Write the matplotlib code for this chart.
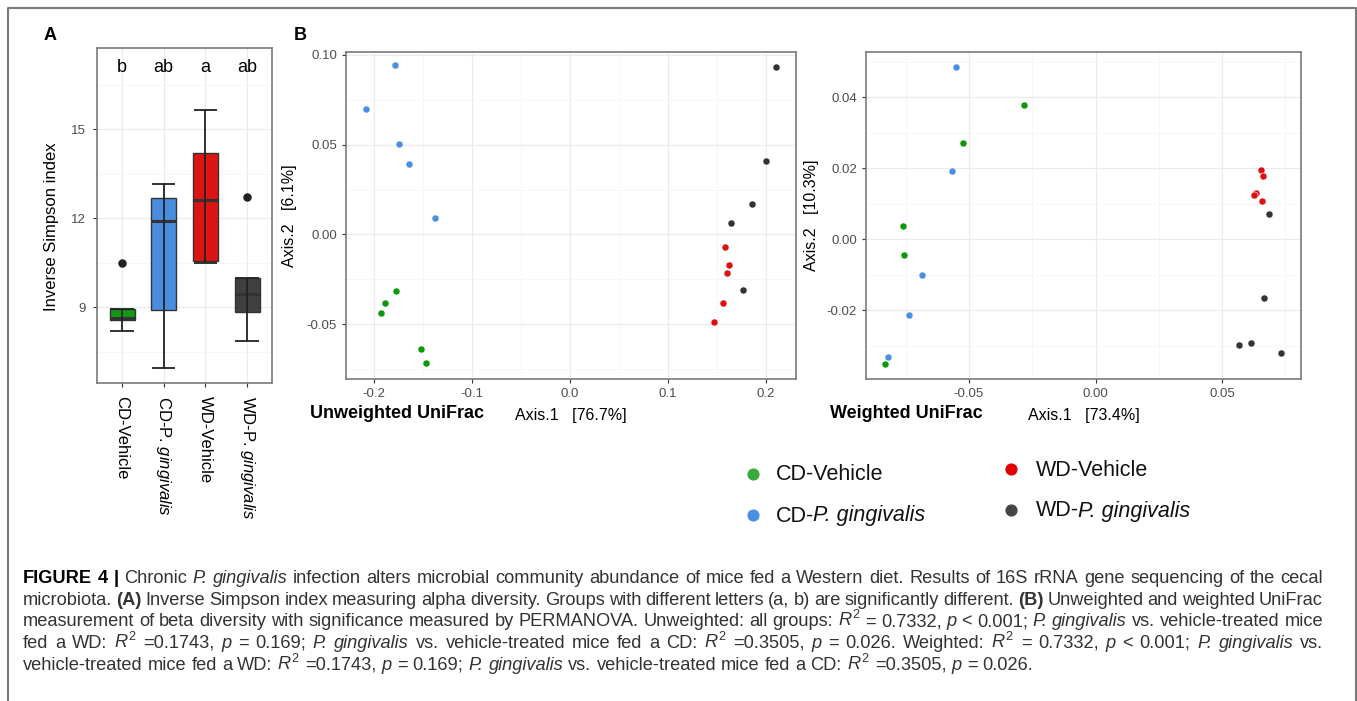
import matplotlib
matplotlib.use("Agg")
import matplotlib.pyplot as plt
import numpy as np

plt.rcParams["font.family"] = ["Liberation Sans", "DejaVu Sans"]
plt.rcParams["mathtext.fontset"] = "custom"
plt.rcParams["mathtext.rm"] = "Liberation Sans"
plt.rcParams["mathtext.it"] = "Liberation Sans:italic"
plt.rcParams["mathtext.bf"] = "Liberation Sans:bold"

W, H = 1357, 701
DPI = 100

# ---- data -------------------------------------------------------------
groups = ["CD-Vehicle", "CD-P. gingivalis", "WD-Vehicle", "WD-P. gingivalis"]
tick_labels_a = ["CD-Vehicle", r"CD-P. $\mathit{gingivalis}$",
                 "WD-Vehicle", r"WD-P. $\mathit{gingivalis}$"]
# legend labels as (text, style) runs
legend_labels = [
    [("CD-Vehicle", "n")],
    [("CD-", "n"), ("P. gingivalis", "i")],
    [("WD-Vehicle", "n")],
    [("WD-", "n"), ("P. gingivalis", "i")],
]

# panel A: inverse Simpson box stats
q1 = [8.58, 8.90, 10.56, 8.84]
median = [8.65, 11.92, 12.63, 9.45]
q3 = [8.93, 12.70, 14.20, 10.00]
whisker_lo = [8.19, 6.94, 10.51, 7.87]
whisker_hi = [8.93, 13.14, 15.65, 10.00]
outliers = [[10.49], [], [], [12.73]]
letters = ["b", "ab", "a", "ab"]

# panel B: unweighted UniFrac PCoA
uw_x = [
    [-0.178, -0.189, -0.193, -0.1527, -0.1473],
    [-0.179, -0.208, -0.1745, -0.165, -0.138],
    [0.1585, 0.1619, 0.1599, 0.1561, 0.1469],
    [0.2099, 0.2003, 0.1857, 0.1639, 0.1762],
]
uw_y = [
    [-0.0317, -0.0381, -0.0435, -0.0639, -0.0715],
    [0.0943, 0.0696, 0.0502, 0.0391, 0.0094],
    [-0.0072, -0.0169, -0.0217, -0.0381, -0.0489],
    [0.0933, 0.0411, 0.0169, 0.0063, -0.0311],
]

# panel B: weighted UniFrac PCoA
w_x = [
    [-0.0284, -0.0525, -0.0759, -0.0757, -0.0832],
    [-0.0553, -0.0567, -0.0687, -0.0737, -0.0821],
    [0.0653, 0.0662, 0.0634, 0.0626, 0.0658],
    [0.0684, 0.0667, 0.0567, 0.0614, 0.0733],
]
w_y = [
    [0.0378, 0.0270, 0.0037, -0.0045, -0.0353],
    [0.0486, 0.0192, -0.0102, -0.0215, -0.0331],
    [0.0196, 0.0177, 0.0131, 0.0125, 0.0106],
    [0.0072, -0.0165, -0.0299, -0.0292, -0.0320],
]

box_colors = ["#119a11", "#4a8de0", "#dc1414", "#404040"]
point_colors = ["#0b990b", "#4a90e2", "#e01010", "#333333"]
legend_colors = ["#3aaa3a", "#4a90e2", "#e00000", "#444444"]

# caption: *bold*, _italic_, $math$ words
R2 = r"$\mathit{R}^{2}$"
caption_lines = [
    "*FIGURE* *4* *|* Chronic _P._ _gingivalis_ infection alters microbial community abundance of mice fed a Western diet. Results of 16S rRNA gene sequencing of the cecal",
    "microbiota. *(A)* Inverse Simpson index measuring alpha diversity. Groups with different letters (a, b) are significantly different. *(B)* Unweighted and weighted UniFrac",
    "measurement of beta diversity with significance measured by PERMANOVA. Unweighted: all groups: " + R2 + " = 0.7332, _p_ < 0.001; _P._ _gingivalis_ vs. vehicle-treated mice",
    "fed a WD: " + R2 + " =0.1743, _p_ = 0.169; _P._ _gingivalis_ vs. vehicle-treated mice fed a CD: " + R2 + " =0.3505, _p_ = 0.026. Weighted: " + R2 + " = 0.7332, _p_ < 0.001; _P._ _gingivalis_ vs.",
    "vehicle-treated mice fed a WD: " + R2 + " =0.1743, _p_ = 0.169; _P._ _gingivalis_ vs. vehicle-treated mice fed a CD: " + R2 + " =0.3505, _p_ = 0.026.",
]

GRID_MAJOR = "#ebebeb"
GRID_MINOR = "#f5f5f5"
FRAME = "#7a7a7a"


def px_axes(fig, left, top, right, bottom):
    return fig.add_axes([left / W, 1 - bottom / H, (right - left) / W, (bottom - top) / H])


def style_frame(ax):
    for sp in ax.spines.values():
        sp.set_color(FRAME)
        sp.set_linewidth(1.2)
    ax.tick_params(which="major", length=3, width=0.8, color="#333333",
                   labelsize=9.5, labelcolor="#4d4d4d", pad=3.5)
    ax.tick_params(which="minor", length=0)
    ax.grid(which="major", color=GRID_MAJOR, lw=0.9)
    ax.grid(which="minor", color=GRID_MINOR, lw=0.6)
    ax.set_axisbelow(True)


def pcoa_panel(ax, xs, ys, xlim, ylim, xmaj, xmin, ymaj, ymin, xfmt, yfmt, xlab, ylab):
    for gx, gy, col in zip(xs, ys, point_colors):
        ax.scatter(gx, gy, s=26, color=col, edgecolors="white", linewidths=0.4, zorder=3)
    ax.set_xlim(*xlim)
    ax.set_ylim(*ylim)
    ax.set_xticks(xmaj)
    ax.set_xticklabels([xfmt.format(v) for v in xmaj])
    ax.set_xticks(xmin, minor=True)
    ax.set_yticks(ymaj)
    ax.set_yticklabels([yfmt.format(v) for v in ymaj])
    ax.set_yticks(ymin, minor=True)
    style_frame(ax)
    ax.set_xlabel(xlab, fontsize=11.5, labelpad=6)
    ax.set_ylabel(ylab, fontsize=11.5)
    ax.yaxis.set_label_coords(-0.108, 0.5)


def style_kw(style):
    if style == "b":
        return {"weight": "bold"}
    if style == "i":
        return {"fontstyle": "italic"}
    return {}


fig = plt.figure(figsize=(W / DPI, H / DPI), dpi=DPI)
renderer = fig.canvas.get_renderer()

# full-figure canvas (1 unit = 1 px) for frame, labels, legend and caption
cv = fig.add_axes([0, 0, 1, 1])
cv.set_xlim(0, W)
cv.set_ylim(H, 0)
cv.axis("off")
cv.plot([7.5, 7.5, 1356, 1356], [H + 5, 7.5, 7.5, H + 5], color=FRAME, lw=1.5)

# ---- panel A ----------------------------------------------------------
axa = px_axes(fig, 97, 48, 272, 383)
pos = np.arange(len(groups))
axa.vlines(pos, whisker_lo, whisker_hi, color="#222222", lw=1.3, zorder=4)
axa.bar(pos, np.array(q3) - np.array(q1), bottom=q1, width=0.6,
        color=box_colors, edgecolor="#333333", lw=1.0, zorder=2)
axa.hlines(median, pos - 0.3, pos + 0.3, color="#333333", lw=2.2, zorder=3)
axa.hlines(whisker_lo, pos - 0.28, pos + 0.28, color="#222222", lw=1.3, zorder=4)
axa.hlines(whisker_hi, pos - 0.28, pos + 0.28, color="#222222", lw=1.3, zorder=4)
for i, vals in enumerate(outliers):
    axa.scatter([i] * len(vals), vals, s=26, color="#222222", zorder=5)
for i, lt in enumerate(letters):
    axa.text(i, 16.93, lt, ha="center", va="baseline", fontsize=13, color="black")
axa.set_xlim(-0.6, 3.6)
axa.set_ylim(6.45, 17.74)
axa.set_yticks([9, 12, 15])
axa.set_yticks([7.5, 10.5, 13.5, 16.5], minor=True)
axa.set_xticks(pos)
style_frame(axa)
axa.tick_params(axis="y", pad=5)
axa.set_xticklabels(tick_labels_a, rotation=-90, fontsize=12, color="black")
axa.tick_params(axis="x", labelcolor="black", labelsize=12, pad=6)
axa.set_ylabel("Inverse Simpson index", fontsize=12)
axa.yaxis.set_label_coords(-0.215, 0.466)

# ---- panel B ----------------------------------------------------------
axu = px_axes(fig, 346, 52, 796, 379)
pcoa_panel(axu, uw_x, uw_y, (-0.2289, 0.2306), (-0.0804, 0.1015),
           [-0.2, -0.1, 0.0, 0.1, 0.2], [-0.15, -0.05, 0.05, 0.15],
           [-0.05, 0.0, 0.05, 0.10], [-0.075, -0.025, 0.025, 0.075],
           "{:.1f}", "{:.2f}", "Axis.1   [76.7%]", "Axis.2   [6.1%]")

axw = px_axes(fig, 866, 52, 1301, 379)
pcoa_panel(axw, w_x, w_y, (-0.0907, 0.0812), (-0.0394, 0.0527),
           [-0.05, 0.0, 0.05], [-0.075, -0.025, 0.025, 0.075],
           [-0.02, 0.0, 0.02, 0.04], [-0.03, -0.01, 0.01, 0.03, 0.05],
           "{:.2f}", "{:.2f}", "Axis.1   [73.4%]", "Axis.2   [10.3%]")

cv.text(310, 414, "Unweighted UniFrac", fontsize=13, weight="bold", va="center", ha="left")
cv.text(830, 414, "Weighted UniFrac", fontsize=13, weight="bold", va="center", ha="left")
cv.text(50, 35, "A", fontsize=13, weight="bold", ha="center", va="center")
cv.text(300, 35, "B", fontsize=13, weight="bold", ha="center", va="center")

# ---- legend -----------------------------------------------------------
leg_mx = [752.7, 752.7, 1010.7, 1010.7]
leg_tx = [776, 776, 1036, 1036]
leg_y = [473.5, 515, 469, 510]
for mx, tx, y, runs, col in zip(leg_mx, leg_tx, leg_y, legend_labels, legend_colors):
    cv.scatter([mx], [y], s=60, color=col)
    x = tx
    for txt, st in runs:
        t = cv.text(x, y + 6.5, txt, fontsize=15.5, ha="left", va="baseline",
                    color="#111111", **style_kw(st))
        x += t.get_window_extent(renderer).width - 1.5

# ---- caption (justified) ----------------------------------------------
cap_left, cap_right = 23, 1323
last_line_right = 1033
baselines = [583, 605, 626.5, 648, 669.5]
base_fs = 12
cap_words = []
for line, yb in zip(caption_lines, baselines):
    words = []
    for tok in line.split(" "):
        if len(tok) > 2 and tok.startswith("*") and tok.endswith("*"):
            txt, st = tok[1:-1], "b"
        elif len(tok) > 2 and tok.startswith("_") and tok.endswith("_"):
            txt, st = tok[1:-1], "i"
        else:
            txt, st = tok, "n"
        color = "black" if (st == "b" and yb == baselines[0]) else "#333333"
        words.append(cv.text(cap_left, yb, txt, fontsize=base_fs, va="baseline",
                             color=color, **style_kw(st)))
    cap_words.append(words)


def natural_width(words, fs):
    space = 0.278 * fs * DPI / 72
    return sum(w.get_window_extent(renderer).width for w in words) + space * (len(words) - 1)


# size from the (unjustified) last line, but keep every line able to fit
fs_last = base_fs * (last_line_right - cap_left) / natural_width(cap_words[-1], base_fs)
fs_fit = max(base_fs * (cap_right - cap_left) / (
    sum(w.get_window_extent(renderer).width for w in ws) + 2.2 * (len(ws) - 1))
    for ws in cap_words[:1])
cap_fs = min(fs_last, fs_fit)
for ws in cap_words:
    for w in ws:
        w.set_fontsize(cap_fs)

for k, ws in enumerate(cap_words):
    widths = [w.get_window_extent(renderer).width for w in ws]
    if k < len(cap_words) - 1:
        gap = (cap_right - cap_left - sum(widths)) / (len(ws) - 1)
    else:
        gap = 0.278 * cap_fs * DPI / 72
    x = cap_left
    for w, wd in zip(ws, widths):
        w.set_x(x)
        x += wd + gap

fig.savefig("out.png", dpi=DPI)
